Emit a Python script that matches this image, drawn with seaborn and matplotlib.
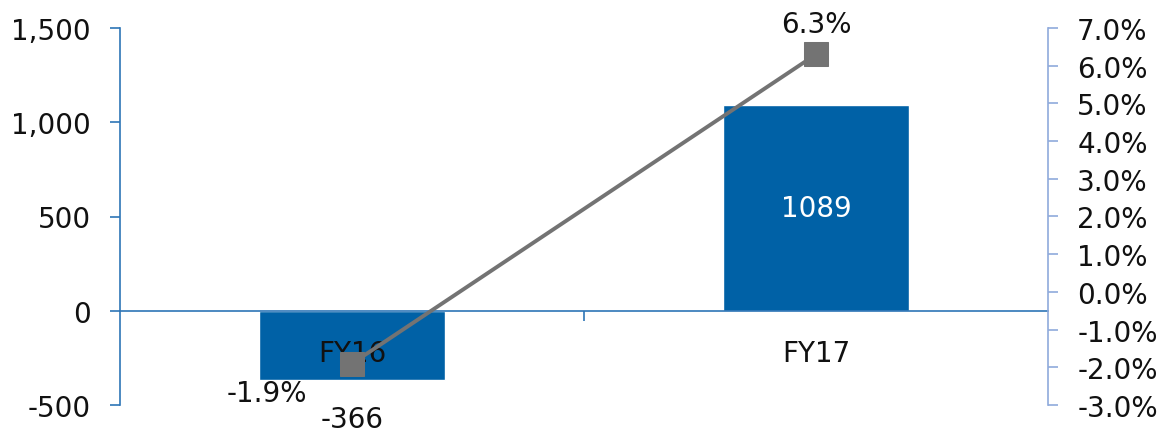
import matplotlib
matplotlib.use("Agg")
import matplotlib.pyplot as plt
import seaborn as sns
import numpy as np
from matplotlib.ticker import FuncFormatter, FixedLocator

categories = ["FY16", "FY17"]
values = [-366, 1089]
growth_pct = [-1.9, 6.3]
left_ticks = [-500, 0, 500, 1000, 1500]
right_ticks = [-3, -2, -1, 0, 1, 2, 3, 4, 5, 6, 7]

BAR = "#0061A6"
LINE = "#737373"
LSPINE = "#2E75B6"
RSPINE = "#8FAADC"
FS = 20

sns.set_theme(style="white")
plt.rcParams["font.family"] = ["DejaVu Sans"]

fig = plt.figure(figsize=(11.62, 4.39), dpi=100)
ax = fig.add_axes([120/1162, 1-406/439, (1048-120)/1162, (406-29)/439])

sns.barplot(x=categories, y=values, ax=ax, color=BAR, width=0.4, saturation=1)
ax.set_xlim(-0.5, 1.5)
ax.set_ylim(-500, 1500)
ax.set_yticks(left_ticks)
ax.yaxis.set_major_formatter(FuncFormatter(lambda v, p: f"{int(v):,}"))
ax.set_xlabel("")
ax.set_ylabel("")

for s in ["top", "right"]:
    ax.spines[s].set_visible(False)
ax.spines["left"].set_color(LSPINE)
ax.spines["left"].set_linewidth(1.2)
ax.spines["bottom"].set_position(("data", 0))
ax.spines["bottom"].set_color(LSPINE)
ax.spines["bottom"].set_linewidth(1.2)
ax.tick_params(axis="y", which="major", length=7, width=1.2, color=LSPINE,
               direction="out", pad=14, labelsize=FS, labelcolor="#111111", left=True)
ax.tick_params(axis="x", which="major", length=0, pad=20, labelsize=FS, labelcolor="#111111")
ax.xaxis.set_minor_locator(FixedLocator([0.5]))
ax.tick_params(axis="x", which="minor", length=7, width=1.2, color=LSPINE, direction="out", bottom=True)
ax.xaxis.set_zorder(10)
for p in ax.patches:
    p.set_zorder(1)

ax2 = ax.twinx()
xpos = np.arange(len(categories))
sns.lineplot(x=xpos, y=growth_pct, ax=ax2, color=LINE, linewidth=2.8,
             marker="s", markersize=17, markerfacecolor=LINE, markeredgecolor=LINE)
ax2.set_ylim(-3, 7)
ax2.set_yticks(right_ticks)
ax2.yaxis.set_major_formatter(FuncFormatter(lambda v, p: f"{v:.1f}%"))
ax2.set_ylabel("")
for s in ["top", "left", "bottom"]:
    ax2.spines[s].set_visible(False)
ax2.spines["right"].set_color(RSPINE)
ax2.spines["right"].set_linewidth(1.2)
ax2.tick_params(axis="y", length=7, width=1.2, color=RSPINE, direction="out",
                pad=14, labelsize=FS, labelcolor="#111111", right=True)
ax2.grid(False)
ax.grid(False)

# data labels
ax.text(1, values[1] / 2, f"{values[1]}", color="white", ha="center", va="center", fontsize=FS)
ax.annotate(f"{values[0]}", xy=(0, values[0]), xytext=(0, -18), textcoords="offset points",
            ha="center", va="top", fontsize=FS, color="#111111")
ax2.annotate(f"{growth_pct[1]:.1f}%", xy=(1, growth_pct[1]), xytext=(0, 12), textcoords="offset points",
             ha="center", va="bottom", fontsize=FS, color="#111111")
ax2.annotate(f"{growth_pct[0]:.1f}%", xy=(0, growth_pct[0]), xytext=(-61, -21), textcoords="offset points",
             ha="center", va="center", fontsize=FS, color="#111111")

fig.savefig("out.png", dpi=100)
